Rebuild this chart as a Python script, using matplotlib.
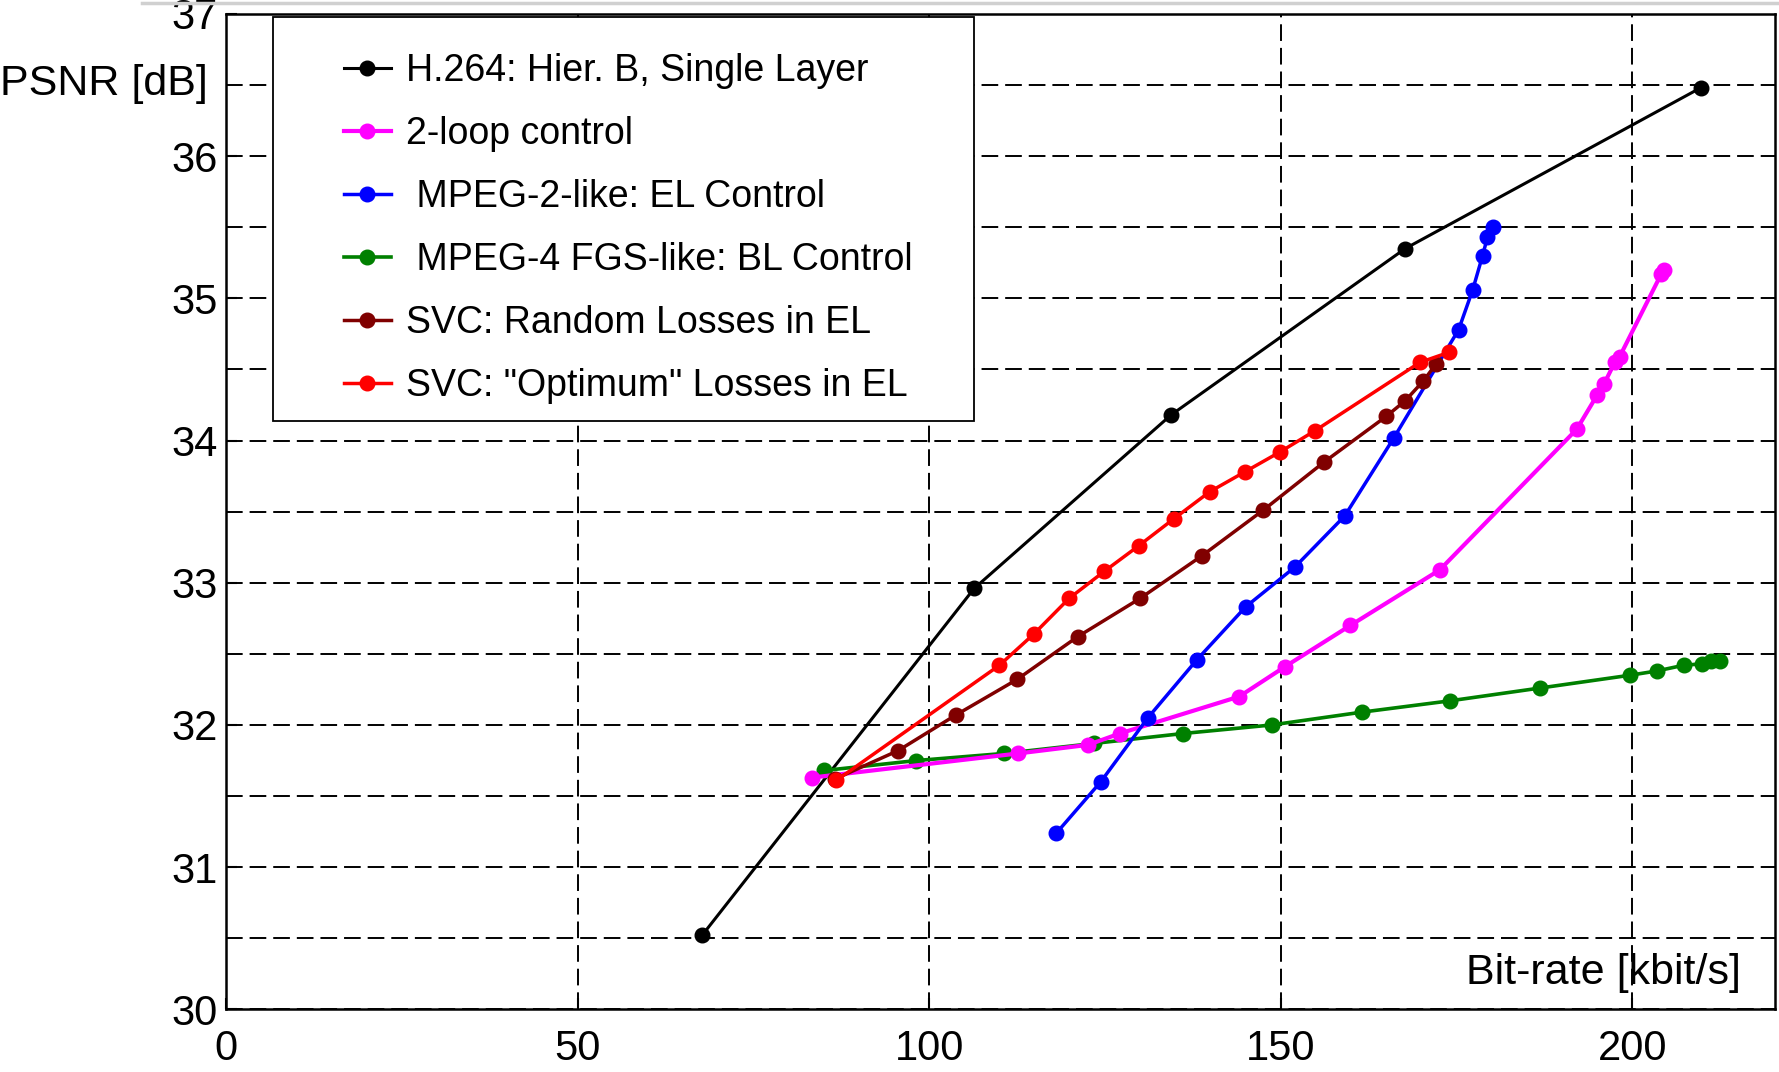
import matplotlib
matplotlib.use('Agg')
import matplotlib.pyplot as plt
from matplotlib.lines import Line2D
from matplotlib.patches import Rectangle
from matplotlib.ticker import MultipleLocator

plt.rcParams['font.family'] = ['Liberation Sans', 'DejaVu Sans']
plt.rcParams['lines.scale_dashes'] = False

# H.264: Hier. B, Single Layer
h264_rate = [67.7, 106.4, 134.4, 167.7, 209.7]
h264_psnr = [30.52, 32.96, 34.18, 35.35, 36.48]

# 2-loop control
loop2_rate = [83.3, 112.7, 122.6, 127.1, 144.1, 150.6, 159.9, 172.6, 192.1, 195.0, 196.0, 197.5, 198.2, 204.1, 204.5]
loop2_psnr = [31.63, 31.80, 31.86, 31.94, 32.20, 32.41, 32.70, 33.09, 34.08, 34.32, 34.40, 34.55, 34.59, 35.17, 35.20]

# MPEG-2-like: EL Control
mpeg2_rate = [118.1, 124.4, 131.1, 138.1, 145.0, 152.0, 159.1, 166.1, 175.3, 177.3, 178.7, 179.4, 180.2]
mpeg2_psnr = [31.24, 31.60, 32.05, 32.46, 32.83, 33.11, 33.47, 34.02, 34.78, 35.06, 35.30, 35.43, 35.50]

# MPEG-4 FGS-like: BL Control
mpeg4_rate = [85.1, 98.2, 110.7, 123.4, 136.1, 148.7, 161.5, 174.1, 186.9, 199.7, 203.5, 207.3, 209.9, 211.2, 212.4]
mpeg4_psnr = [31.68, 31.75, 31.80, 31.87, 31.94, 32.00, 32.09, 32.17, 32.26, 32.35, 32.38, 32.42, 32.43, 32.45, 32.45]

# SVC: Random Losses in EL
svc_rand_rate = [86.6, 95.6, 103.8, 112.5, 121.1, 130.0, 138.8, 147.5, 156.2, 165.0, 167.7, 170.3, 172.1]
svc_rand_psnr = [31.62, 31.82, 32.07, 32.32, 32.62, 32.89, 33.19, 33.51, 33.85, 34.17, 34.28, 34.42, 34.54]

# SVC: "Optimum" Losses in EL
svc_opt_rate = [86.8, 110.0, 114.9, 119.9, 124.9, 129.8, 134.8, 139.9, 144.9, 149.9, 154.9, 169.8, 173.9]
svc_opt_psnr = [31.61, 32.42, 32.64, 32.89, 33.08, 33.26, 33.45, 33.64, 33.78, 33.92, 34.07, 34.55, 34.62]

labels = ['H.264: Hier. B, Single Layer', '2-loop control', ' MPEG-2-like: EL Control',
          ' MPEG-4 FGS-like: BL Control', 'SVC: Random Losses in EL', 'SVC: "Optimum" Losses in EL']
colors = ['black', '#ff00ff', '#0000ff', '#008000', '#800000', '#ff0000']
widths = [2.2, 3.0, 2.5, 2.6, 2.5, 2.5]

fig = plt.figure(figsize=(17.79, 10.72), dpi=100)
ax = fig.add_axes([0.127, 0.0584, 0.8708, 0.9286])

ms = 10.5
# drawing order follows the overlaps seen in the original
ax.plot(h264_rate, h264_psnr, '-o', color=colors[0], lw=widths[0], ms=ms, zorder=3)
ax.plot(mpeg4_rate, mpeg4_psnr, '-o', color=colors[3], lw=widths[3], ms=ms, zorder=4)
ax.plot(loop2_rate, loop2_psnr, '-o', color=colors[1], lw=widths[1], ms=ms, zorder=5)
ax.plot(mpeg2_rate, mpeg2_psnr, '-o', color=colors[2], lw=widths[2], ms=ms, zorder=6)
ax.plot(svc_rand_rate, svc_rand_psnr, '-o', color=colors[4], lw=widths[4], ms=ms, zorder=7)
ax.plot(svc_opt_rate, svc_opt_psnr, '-o', color=colors[5], lw=widths[5], ms=ms, zorder=8)

ax.set_xlim(0, 220.3)
ax.set_ylim(30, 37)
ax.set_xticks([0, 50, 100, 150, 200])
ax.yaxis.set_major_locator(MultipleLocator(1))
ax.yaxis.set_minor_locator(MultipleLocator(0.5))
ax.set_axisbelow(True)
ax.grid(which='both', color='black', linestyle=(0, (12, 5)), linewidth=1.4)
ax.tick_params(which='minor', length=0)
ax.tick_params(which='major', direction='in', length=8, width=1.5)
ax.tick_params(axis='y', pad=6, labelsize=30)
ax.tick_params(axis='x', pad=14, labelsize=30)
for s in ax.spines.values():
    s.set_linewidth(1.8)

fig.text(0.0, 1 - 84 / 1072, 'PSNR [dB]', fontsize=31, va='center', ha='left')
ax.text(0.978, 0.0255, 'Bit-rate [kbit/s]', transform=ax.transAxes,
        ha='right', va='baseline', fontsize=31)

# legend box
fig.add_artist(Rectangle((273 / 1779, 1 - 421 / 1072), 701 / 1779, 404 / 1072,
                         transform=fig.transFigure, facecolor='white',
                         edgecolor='black', lw=1.3, zorder=4))
handles = [Line2D([], [], color=c, marker='o', lw=w, ms=ms) for c, w in zip(colors, widths)]
fig.legend(handles, labels, loc='upper left', bbox_to_anchor=(344 / 1779, 1 - 53 / 1072),
           frameon=False, fontsize=27, handlelength=1.25, handletextpad=0.4,
           labelspacing=0.72, borderpad=0, borderaxespad=0)

# thin grey rule at the very top
fig.add_artist(Line2D([142 / 1779, 1], [1 - 3 / 1072] * 2, color='#d0d0d0', lw=2.5))

fig.savefig('out.png', dpi=100)
